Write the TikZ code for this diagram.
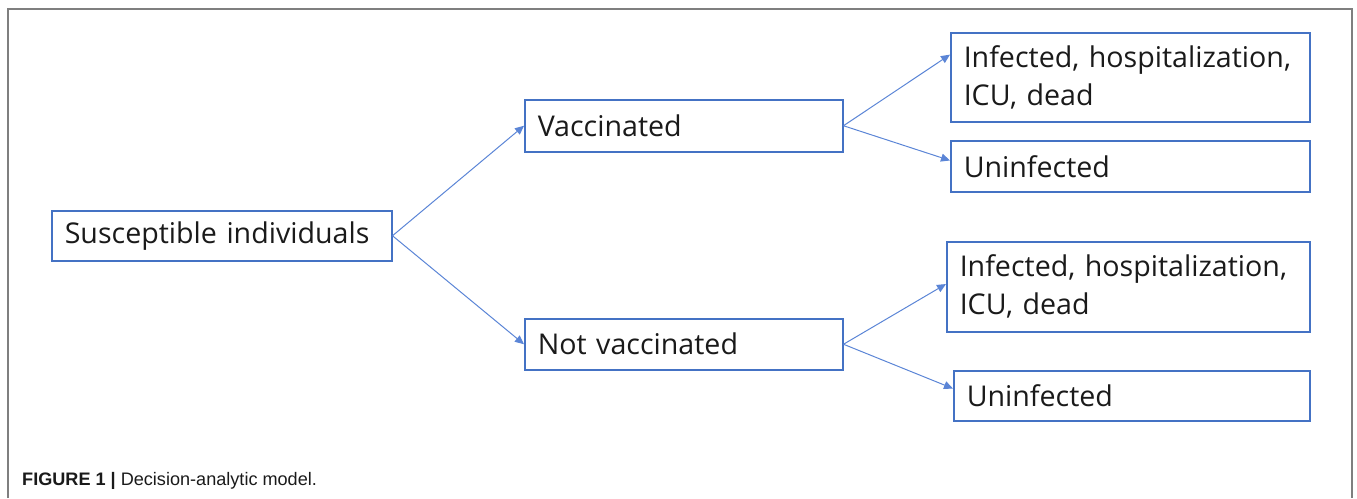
\documentclass[tikz,border=0pt]{standalone}
\usepackage{fontspec}
\setmainfont{Open Sans}
\newfontfamily\capfont{Liberation Sans}
\usetikzlibrary{arrows.meta,calc}
\definecolor{boxblue}{HTML}{4472C4}
\definecolor{linkblue}{HTML}{5B85D6}
\definecolor{framegray}{HTML}{7F7F7F}
\definecolor{txt}{HTML}{1A1A1A}
\tikzset{
  box/.style={draw=boxblue, line width=1.5pt, anchor=north west, inner xsep=13pt, inner ysep=0pt,
    align=left, text=txt, font=\fontsize{28.6}{38}\selectfont},
  link/.style={draw=linkblue, line width=1pt, -{Triangle[length=9pt,width=8pt]}},
}
\begin{document}
\begin{tikzpicture}[x=1pt,y=-1pt]
\useasboundingbox (0,0) rectangle (1357,498);
\draw[framegray, line width=2pt] (7.5,498) -- (7.5,8.5) -- (1352,8.5) -- (1352,498);
\node[box, minimum width=340pt, minimum height=50pt, text width=314pt] (S) at (51,210) {Susceptible individuals};
\node[box, minimum width=318pt, minimum height=52pt, text width=292pt] (V) at (524,99) {Vaccinated};
\node[box, minimum width=318pt, minimum height=51pt, text width=292pt] (N) at (524,318) {Not vaccinated};
\node[box, minimum width=359pt, minimum height=89pt, text width=333pt] (I1) at (950,32) {Infected, hospitalization,\\ICU, dead};
\node[box, minimum width=359pt, minimum height=51pt, text width=333pt] (U1) at (950,140) {Uninfected};
\node[box, minimum width=363pt, minimum height=90pt, text width=337pt] (I2) at (946,241) {Infected, hospitalization,\\ICU, dead};
\node[box, minimum width=356pt, minimum height=50pt, text width=330pt] (U2) at (953,370) {Uninfected};
\draw[link] (S.east) -- (V.west);
\draw[link] (S.east) -- (N.west);
\draw[link] (V.east) -- ($(I1.north west)!0.25!(I1.south west)$);
\draw[link] (V.east) -- ($(U1.north west)!0.39!(U1.south west)$);
\draw[link] (N.east) -- ($(I2.north west)!0.47!(I2.south west)$);
\draw[link] (N.east) -- ($(U2.north west)!0.36!(U2.south west)$);
\node[anchor=base west, inner sep=0pt, font=\capfont\fontsize{18.1}{20}\selectfont, text=txt] (cap) at (22,485)
  {\textbf{FIGURE 1 |} Decision-analytic model.};
\end{tikzpicture}
\end{document}
